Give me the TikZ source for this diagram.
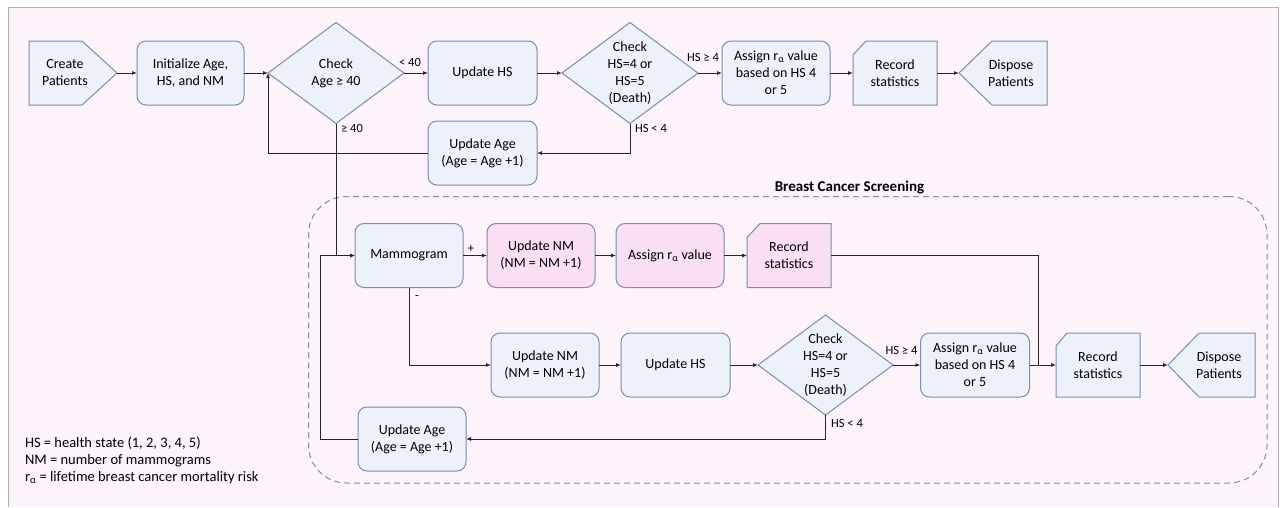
\documentclass[tikz,border=0pt]{standalone}
\usepackage{fontspec}
\setmainfont{Carlito}
\usetikzlibrary{arrows.meta,calc}

\definecolor{pagebg}{RGB}{253,243,250}
\definecolor{boxfill}{RGB}{237,242,250}
\definecolor{boxline}{RGB}{122,140,176}
\definecolor{pinkfill}{RGB}{250,222,241}
\definecolor{outerline}{RGB}{175,175,175}
\definecolor{dashline}{RGB}{128,143,172}

\newcommand\boxfont{\fontsize{14}{17}\selectfont}
\newcommand\lblfont{\fontsize{12.5}{15}\selectfont}
\newcommand\legendfont{\fontsize{14.5}{17}\selectfont}
\newcommand\titlefont{\fontsize{15}{18}\selectfont\bfseries}
\newcommand\ralpha{r\textsubscript{α}}

\tikzset{
  every node/.style={inner sep=0pt, outer sep=0pt},
  proc/.style={rectangle, rounded corners=9pt, draw=boxline, fill=boxfill,
    line width=1pt, minimum width=#1, minimum height=64pt, align=center,
    font=\boxfont},
  proc/.default=108pt,
  pinkproc/.style={proc=#1, fill=pinkfill},
  pinkproc/.default=108pt,
  slot/.style 2 args={rectangle, minimum width=#1, minimum height=#2},
  shapeline/.style={draw=boxline, fill=boxfill, line width=1pt, line join=miter},
  pinkline/.style={shapeline, fill=pinkfill},
  txt/.style={align=center, font=\boxfont},
  lbl/.style={font=\lblfont},
  conn/.style={line width=0.9pt, draw=black!85},
  arr/.style={conn, -{Latex[length=5pt,width=4pt]}},
  groupbox/.style={draw=dashline, line width=1pt, dash pattern=on 6pt off 4pt,
    rounded corners=38pt},
}

\begin{document}
\begin{tikzpicture}[x=1pt,y=-1pt]
\useasboundingbox (0,0) rectangle (1286,507);
\fill[white] (0,0) rectangle (1286,507);
\fill[pagebg] (8,7) rectangle (1278,507);
\draw[outerline, line width=1pt] (8,507) -- (8,7) -- (1278,7) -- (1278,507);

% ---------- screening group ----------
\node[groupbox, slot={958.5pt}{286.5pt}] (screen) at (787.75,339.75) {};
\node[font=\titlefont] (screen-title) at (849.5,188) {Breast Cancer Screening};

% ---------- main flow ----------
\node[slot={88pt}{64pt}] (create) at (73,73) {};
\draw[shapeline] (create.north west) -- ([xshift=-35pt]create.north east)
  -- (create.east) -- ([xshift=-35pt]create.south east) -- (create.south west) -- cycle;
\node[txt] (create-text) at (65,73) {Create\\Patients};

\node[proc=107pt] (init) at (190.5,73) {Initialize Age,\\HS, and NM};

\node[slot={136pt}{101pt}] (chk1) at (336,73) {};
\draw[shapeline] (chk1.west) -- (chk1.north) -- (chk1.east) -- (chk1.south) -- cycle;
\node[txt] (chk1-text) at (336,73) {Check\\Age ≥ 40};

\node[proc=109pt] (uhs1) at (482.5,73) {Update HS};

\node[slot={136pt}{101pt}] (chk2) at (630,73) {};
\draw[shapeline] (chk2.west) -- (chk2.north) -- (chk2.east) -- (chk2.south) -- cycle;
\node[txt] (chk2-text) at (630,73.5) {Check\\HS=4 or\\HS=5\\(Death)};

\node[proc=108pt] (asg1) at (776,73) {Assign \ralpha{} value\\based on HS 4\\or 5};

\node[slot={84pt}{64pt}] (rec1) at (895,73) {};
\draw[shapeline] ([xshift=13pt]rec1.north west) -- (rec1.north east) -- (rec1.south east)
  -- (rec1.south west) -- ([yshift=-14pt]rec1.north west) -- cycle;
\node[txt] (rec1-text) at (895,73) {Record\\statistics};

\node[slot={88pt}{64pt}] (disp1) at (1003,73) {};
\draw[shapeline] (disp1.west) -- ([xshift=33pt]disp1.north west) -- (disp1.north east)
  -- (disp1.south east) -- ([xshift=33pt]disp1.south west) -- cycle;
\node[txt] (disp1-text) at (1011,73) {Dispose\\Patients};

\node[proc=109pt] (uage1) at (482.5,153) {Update Age\\(Age = Age +1)};

% ---------- screening flow ----------
\node[proc=108pt] (mammo) at (409,255.5) {Mammogram};
\node[pinkproc=108pt] (unm1) at (541,255.5) {Update NM\\(NM = NM +1)};
\node[pinkproc=108pt] (asg2) at (670,255.5) {Assign \ralpha{} value};

\node[slot={84pt}{64pt}] (rec2) at (789,255.5) {};
\draw[pinkline] ([xshift=13pt]rec2.north west) -- (rec2.north east) -- (rec2.south east)
  -- (rec2.south west) -- ([yshift=-14pt]rec2.north west) -- cycle;
\node[txt] (rec2-text) at (789,255.5) {Record\\statistics};

\node[proc=108pt] (unm2) at (545,365) {Update NM\\(NM = NM +1)};
\node[proc=109pt] (uhs2) at (675.5,365) {Update HS};

\node[slot={135pt}{100pt}] (chk3) at (825.5,365) {};
\draw[shapeline] (chk3.west) -- (chk3.north) -- (chk3.east) -- (chk3.south) -- cycle;
\node[txt] (chk3-text) at (825.5,365.5) {Check\\HS=4 or\\HS=5\\(Death)};

\node[proc=109pt] (asg3) at (975,365) {Assign \ralpha{} value\\based on HS 4\\or 5};

\node[slot={84pt}{64pt}] (rec3) at (1098,365) {};
\draw[shapeline] ([xshift=11pt]rec3.north west) -- (rec3.north east) -- (rec3.south east)
  -- (rec3.south west) -- ([yshift=-13pt]rec3.north west) -- cycle;
\node[txt] (rec3-text) at (1098,365) {Record\\statistics};

\node[slot={87pt}{64pt}] (disp2) at (1211.5,365) {};
\draw[shapeline] (disp2.west) -- ([xshift=31pt]disp2.north west) -- (disp2.north east)
  -- (disp2.south east) -- ([xshift=31pt]disp2.south west) -- cycle;
\node[txt] (disp2-text) at (1219,365) {Dispose\\Patients};

\node[proc=108pt] (uage2) at (412,439) {Update Age\\(Age = Age +1)};

\coordinate (loopx) at (320,0);
\coordinate (join) at ($(asg3.east)!0.33!(rec3.west)$);

% ---------- connectors ----------
\draw[arr] (create.east) -- (init.west);
\draw[arr] (init.east) -- (chk1.west);
\draw[arr] (chk1.east) -- (uhs1.west);
\draw[arr] (uhs1.east) -- (chk2.west);
\draw[arr] (chk2.east) -- (asg1.west);
\draw[arr] (asg1.east) -- (rec1.west);
\draw[arr] (rec1.east) -- (disp1.west);
\draw[arr] (chk2.south) |- (uage1.east);
\draw[arr] (uage1.west) -| (chk1.west);
\draw[arr] (chk1.south) |- (mammo.west);

\draw[arr] (mammo.east) -- (unm1.west);
\draw[arr] (unm1.east) -- (asg2.west);
\draw[arr] (asg2.east) -- (rec2.west);
\draw[conn] (rec2.east) -| (join);
\draw[arr] (mammo.south) |- (unm2.west);
\draw[arr] (unm2.east) -- (uhs2.west);
\draw[arr] (uhs2.east) -- (chk3.west);
\draw[arr] (chk3.east) -- (asg3.west);
\draw[arr] (asg3.east) -- (rec3.west);
\draw[arr] (rec3.east) -- (disp2.west);
\draw[arr] (chk3.south) |- (uage2.east);
\draw[arr] (uage2.west) -- (uage2.west -| loopx) |- (mammo.west);

% ---------- connector labels ----------
\node[lbl] (lt40) at (410,62) {< 40};
\node[lbl] (ge40) at (352,128) {≥ 40};
\node[lbl] (hsge4a) at (703,57) {HS ≥ 4};
\node[lbl] (hslt4a) at (651,128) {HS < 4};
\node[lbl] (plus) at (471,249) {+};
\node[lbl] (minus) at (417,297) {-};
\node[lbl] (hsge4b) at (901.5,350) {HS ≥ 4};
\node[lbl] (hslt4b) at (847,423) {HS < 4};

% ---------- legend ----------
\node[anchor=west, align=left, font=\legendfont] (legend) at (25,460.5)
  {HS = health state (1, 2, 3, 4, 5)\\NM = number of mammograms\\\ralpha{} = lifetime breast cancer mortality risk};
\end{tikzpicture}
\end{document}
